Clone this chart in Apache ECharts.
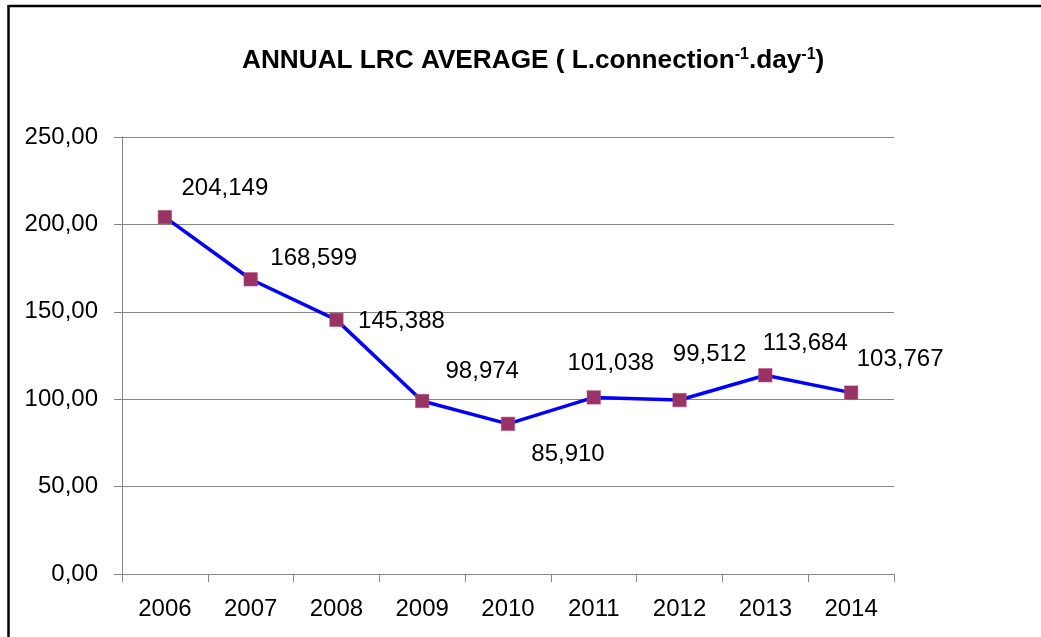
<!DOCTYPE html>
<html>
<head>
<meta charset="utf-8">
<script src="https://cdn.jsdelivr.net/npm/echarts@6/dist/echarts.min.js"></script>
<style>
html,body{margin:0;padding:0;background:#fff;overflow:hidden;}
#chart{width:1041px;height:637px;}
</style>
</head>
<body>
<div id="chart"></div>
<script>
const categories = ['2006','2007','2008','2009','2010','2011','2012','2013','2014'];
const values = [204.149, 168.599, 145.388, 98.974, 85.910, 101.038, 99.512, 113.684, 103.767];
const valueLabels = ['204,149','168,599','145,388','98,974','85,910','101,038','99,512','113,684','103,767'];
const labelOffsets = [[60,-29],[63,-21],[65,2],[60,-30],[60,31],[17,-34],[30,-46],[40,-32],[49,-33]];

const chart = echarts.init(document.getElementById('chart'));
const FONT = 'Liberation Sans';
const data = values.map((v, i) => ({
  value: v,
  label: { offset: labelOffsets[i], formatter: valueLabels[i] }
}));

chart.setOption({
  animation: false,
  backgroundColor: '#fff',
  title: {
    text: '{t|ANNUAL LRC AVERAGE ( L.connection}{s|-1}{t|.day}{s|-1}{t|)}',
    left: 237,
    top: 42,
    textStyle: {
      rich: {
        t: { fontFamily: FONT, fontWeight: 'bold', fontSize: 26.2, color: '#000' },
        s: { fontFamily: FONT, fontWeight: 'bold', fontSize: 16, color: '#000', verticalAlign: 'top', padding: [0,0,12,0] }
      }
    }
  },
  grid: { left: 122, right: 147, top: 137, bottom: 63, containLabel: false },
  xAxis: {
    type: 'category',
    data: categories,
    boundaryGap: true,
    axisLine: { lineStyle: { color: '#868686', width: 1 } },
    axisTick: { show: true, length: 8, lineStyle: { color: '#868686' } },
    axisLabel: { fontFamily: FONT, fontSize: 24, color: '#000', margin: 23 }
  },
  yAxis: {
    type: 'value',
    min: 0, max: 250, interval: 50,
    axisLine: { show: true, lineStyle: { color: '#868686', width: 1 } },
    axisTick: { show: true, length: 8, lineStyle: { color: '#868686' } },
    axisLabel: {
      fontFamily: FONT, fontSize: 24, color: '#000', margin: 24,
      formatter: v => v.toFixed(2).replace('.', ',')
    },
    splitLine: { show: true, lineStyle: { color: '#868686', width: 1 } }
  },
  series: [{
    type: 'line',
    data: data,
    symbol: 'rect',
    symbolSize: 13.5,
    lineStyle: { color: '#0000FF', width: 3.5 },
    itemStyle: { color: '#993366', borderColor: '#b0507f', borderWidth: 0.5 },
    label: {
      show: true,
      position: 'inside',
      align: 'center',
      verticalAlign: 'middle',
      fontFamily: FONT,
      fontSize: 24,
      color: '#000'
    },
    z: 3
  }],
  graphic: [
    { type: 'line', shape: { x1: 8.5, y1: 6, x2: 1041, y2: 6 }, style: { stroke: '#000', lineWidth: 2.5 }, z: 100 },
    { type: 'line', shape: { x1: 8.5, y1: 5, x2: 8.5, y2: 637 }, style: { stroke: '#000', lineWidth: 2.5 }, z: 100 }
  ]
});
</script>
</body>
</html>
